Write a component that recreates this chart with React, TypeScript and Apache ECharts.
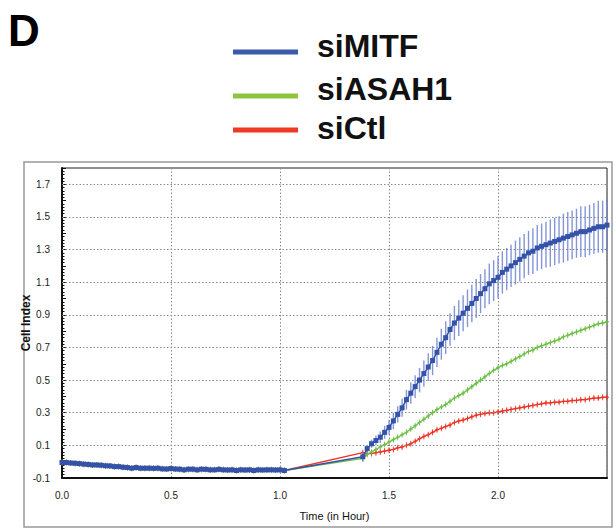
import React, { useEffect, useRef } from "react";
import * as echarts from "echarts";

// ---- data ----
const seriesNames = ["siMITF", "siASAH1", "siCtl"];
const seriesColors = ["#3352a8", "#6cbf45", "#ee3324"];
const legendColors = ["#3a5bab", "#8cc63e", "#ee3a24"];

// baseline phase (all three wells overlap)
const baselineT = [
  0.0, 0.02, 0.04, 0.06, 0.08, 0.1, 0.12, 0.14, 0.16, 0.18, 0.2, 0.22, 0.24, 0.26, 0.28, 0.3, 0.32, 0.34,
  0.36, 0.38, 0.4, 0.42, 0.44, 0.46, 0.48, 0.5, 0.52, 0.54, 0.56, 0.58, 0.6, 0.62, 0.64, 0.66, 0.68, 0.7,
  0.72, 0.74, 0.76, 0.78, 0.8, 0.82, 0.84, 0.86, 0.88, 0.9, 0.92, 0.94, 0.96, 0.98, 1.0, 1.02,
];
const baselineCI = [
  -0.005, -0.005, -0.008, -0.01, -0.012, -0.015, -0.017, -0.02, -0.02, -0.022, -0.025, -0.026, -0.03, -0.03,
  -0.034, -0.036, -0.04, -0.036, -0.04, -0.04, -0.04, -0.041, -0.04, -0.044, -0.045, -0.042, -0.045, -0.046,
  -0.05, -0.046, -0.046, -0.05, -0.046, -0.047, -0.05, -0.05, -0.047, -0.05, -0.051, -0.05, -0.054, -0.05,
  -0.051, -0.05, -0.054, -0.05, -0.051, -0.05, -0.05, -0.051, -0.05, -0.054,
];

// treatment phase
const phaseT = [
  1.38, 1.4, 1.42, 1.44, 1.46, 1.48, 1.5, 1.52, 1.54, 1.56, 1.58, 1.6, 1.62, 1.64, 1.66, 1.68, 1.7, 1.72,
  1.74, 1.76, 1.78, 1.8, 1.82, 1.84, 1.86, 1.88, 1.9, 1.92, 1.94, 1.96, 1.98, 2.0, 2.02, 2.04, 2.06, 2.08,
  2.1, 2.12, 2.14, 2.16, 2.18, 2.2, 2.22, 2.24, 2.26, 2.28, 2.3, 2.32, 2.34, 2.36, 2.38, 2.4, 2.42, 2.44,
  2.46, 2.48, 2.5,
];
const siMITF = [
  0.03, 0.08, 0.11, 0.13, 0.15, 0.18, 0.21, 0.25, 0.29, 0.33, 0.38, 0.42, 0.46, 0.5, 0.54, 0.58, 0.62, 0.67,
  0.72, 0.76, 0.81, 0.85, 0.88, 0.91, 0.94, 0.97, 1.0, 1.03, 1.06, 1.09, 1.11, 1.13, 1.16, 1.18, 1.2, 1.22,
  1.24, 1.26, 1.28, 1.29, 1.31, 1.32, 1.33, 1.34, 1.35, 1.36, 1.37, 1.38, 1.39, 1.4, 1.41, 1.41, 1.42, 1.43,
  1.44, 1.44, 1.45,
];
const siMITFErr = [
  0.03, 0.02, 0.025, 0.03, 0.035, 0.04, 0.045, 0.05, 0.05, 0.055, 0.06, 0.065, 0.07, 0.075, 0.08, 0.085, 0.09,
  0.09, 0.095, 0.1, 0.1, 0.105, 0.11, 0.11, 0.115, 0.115, 0.12, 0.12, 0.12, 0.125, 0.125, 0.13, 0.13, 0.13,
  0.13, 0.135, 0.135, 0.135, 0.135, 0.14, 0.14, 0.14, 0.14, 0.145, 0.145, 0.145, 0.15, 0.15, 0.15, 0.15, 0.155,
  0.155, 0.155, 0.155, 0.16, 0.16, 0.16,
];
const siASAH1 = [
  0.02, 0.045, 0.06, 0.075, 0.09, 0.105, 0.12, 0.135, 0.15, 0.165, 0.18, 0.2, 0.22, 0.24, 0.26, 0.28, 0.3,
  0.32, 0.335, 0.35, 0.37, 0.39, 0.405, 0.42, 0.44, 0.46, 0.48, 0.5, 0.52, 0.54, 0.56, 0.575, 0.59, 0.6,
  0.615, 0.63, 0.645, 0.66, 0.675, 0.685, 0.7, 0.71, 0.72, 0.73, 0.74, 0.75, 0.765, 0.775, 0.785, 0.795,
  0.805, 0.815, 0.825, 0.835, 0.845, 0.85, 0.857,
];
const siCtl = [
  0.055, 0.05, 0.05, 0.055, 0.06, 0.065, 0.07, 0.075, 0.085, 0.09, 0.1, 0.11, 0.125, 0.14, 0.155, 0.165,
  0.18, 0.195, 0.205, 0.215, 0.225, 0.24, 0.25, 0.255, 0.265, 0.275, 0.285, 0.29, 0.295, 0.3, 0.3, 0.305,
  0.31, 0.315, 0.32, 0.325, 0.33, 0.335, 0.34, 0.345, 0.35, 0.355, 0.36, 0.36, 0.365, 0.365, 0.37, 0.37,
  0.375, 0.375, 0.38, 0.38, 0.385, 0.39, 0.39, 0.395, 0.395,
];
const smallErr = 0.012;

// gridlines / ticks
const yGridValues = [0.1, 0.3, 0.5, 0.7, 0.9, 1.1, 1.3, 1.5, 1.7];
const xLabelValues = [0, 0.5, 1.0, 1.5, 2.0];

const FONT = "'Liberation Sans', Arial, sans-serif";
const BOLD = "'Liberation Sans', Arial, sans-serif";

const plusSymbol =
  "path://M2,0 L3,0 L3,2.5 L5,2.5 L5,3.5 L3,3.5 L3,6 L2,6 L2,3.5 L0,3.5 L0,2.5 L2,2.5 Z";

function buildSeriesData(values: number[]) {
  const base = baselineT.map((t, i) => [t, baselineCI[i]]);
  const phase = phaseT.map((t, i) => [t, values[i]]);
  return base.concat(phase);
}

export default function App() {
  const ref = useRef<HTMLDivElement>(null);

  useEffect(() => {
    if (!ref.current) return;
    const chart = echarts.init(ref.current, undefined, { renderer: "svg" });

    const legendLineY = [52, 96, 130];
    const legendTextY = [46, 89, 128];
    const legendGraphics: any[] = [];
    seriesNames.forEach((name, i) => {
      legendGraphics.push({
        type: "line",
        shape: { x1: 233, y1: legendLineY[i], x2: 298, y2: legendLineY[i] },
        style: { stroke: legendColors[i], lineWidth: 5 },
      });
      legendGraphics.push({
        type: "text",
        x: 317,
        y: legendTextY[i],
        style: {
          text: name,
          font: `bold 32px ${BOLD}`,
          fill: "#111",
          verticalAlign: "middle",
          align: "left",
        },
      });
    });

    const errCustom = (errs: number[], vals: number[], color: string, width: number, name: string, z: number) => ({
      type: "custom",
      name: name + "-err",
      z,
      silent: true,
      data: phaseT.map((t, i) => [t, vals[i] - errs[i], vals[i] + errs[i]]),
      encode: { x: 0, y: [1, 2] },
      renderItem: (params: any, api: any) => {
        const x = api.value(0);
        const p1 = api.coord([x, api.value(1)]);
        const p2 = api.coord([x, api.value(2)]);
        return {
          type: "line",
          shape: { x1: p1[0], y1: p1[1], x2: p2[0], y2: p2[1] },
          style: { stroke: color, lineWidth: width, opacity: 0.85 },
        };
      },
    });

    const option: any = {
      animation: false,
      backgroundColor: "#fff",
      grid: {
        left: 62,
        top: 168,
        right: 9,
        bottom: 51,
        show: true,
        borderColor: "#222",
        borderWidth: 1,
        backgroundColor: "#fff",
      },
      graphic: [
        {
          type: "rect",
          shape: { x: 24, y: 162, width: 588, height: 365 },
          style: { fill: "none", stroke: "#999", lineWidth: 1.5 },
          z: -1,
        },
        {
          type: "text",
          x: 8,
          y: 30,
          style: { text: "D", font: `bold 44px ${BOLD}`, fill: "#000", verticalAlign: "middle" },
        },
        ...legendGraphics,
      ],
      xAxis: {
        type: "value",
        min: 0,
        max: 2.5,
        interval: 0.5,
        name: "Time (in Hour)",
        nameLocation: "middle",
        nameGap: 32,
        nameMoveOverlap: false,
        nameTextStyle: { fontFamily: FONT, fontSize: 11, color: "#111" },
        axisLine: { show: true, onZero: false, lineStyle: { color: "#111", width: 2 } },
        axisTick: { show: false },
        splitLine: { show: true, lineStyle: { color: "#888", type: [1.5, 2], width: 1 } },
        axisLabel: {
          margin: 12,
          fontFamily: FONT,
          fontSize: 10,
          color: "#222",
          showMaxLabel: false,
          formatter: (v: number) =>
            xLabelValues.some((x) => Math.abs(x - v) < 1e-6) ? v.toFixed(1) : "",
        },
      },
      yAxis: {
        type: "value",
        min: -0.1,
        max: 1.8,
        interval: 0.1,
        name: "Cell Index",
        nameLocation: "middle",
        nameGap: 30,
        nameMoveOverlap: false,
        nameTextStyle: { fontFamily: BOLD, fontSize: 12, fontWeight: "bold", color: "#111" },
        axisLine: { show: true, onZero: false, lineStyle: { color: "#111", width: 2 } },
        axisTick: { show: true, inside: true, length: 4, lineStyle: { color: "#111" } },
        minorTick: { show: true, splitNumber: 5, length: 2.5, lineStyle: { color: "#111" } },
        splitLine: { show: false },
        axisLabel: {
          margin: 12,
          fontFamily: FONT,
          fontSize: 10,
          color: "#222",
          formatter: (v: number) => {
            const k = Math.round(v * 10);
            return yGridValues.some((g) => Math.abs(g - v) < 1e-6) || k === -1 ? v.toFixed(1) : "";
          },
        },
      },
      series: [
        {
          type: "line",
          name: "grid",
          data: [],
          silent: true,
          z: 0,
          markLine: {
            silent: true,
            symbol: "none",
            label: { show: false },
            lineStyle: { color: "#888", type: [1.5, 2], width: 1 },
            data: yGridValues.map((v) => ({ yAxis: v })),
          },
        },
        errCustom(phaseT.map(() => smallErr), siCtl, seriesColors[2], 1, seriesNames[2], 2),
        {
          type: "line",
          name: seriesNames[2],
          z: 3,
          data: buildSeriesData(siCtl),
          lineStyle: { color: seriesColors[2], width: 1.3 },
          itemStyle: { color: seriesColors[2] },
          symbol: plusSymbol,
          symbolSize: [4, 6],
        },
        errCustom(phaseT.map(() => smallErr), siASAH1, seriesColors[1], 1, seriesNames[1], 4),
        {
          type: "line",
          name: seriesNames[1],
          z: 5,
          data: buildSeriesData(siASAH1),
          lineStyle: { color: seriesColors[1], width: 1.3 },
          itemStyle: { color: seriesColors[1] },
          symbol: plusSymbol,
          symbolSize: [4, 6],
        },
        errCustom(siMITFErr, siMITF, "#6e84cf", 1.4, seriesNames[0], 6),
        {
          type: "line",
          name: seriesNames[0],
          z: 7,
          data: buildSeriesData(siMITF),
          lineStyle: { color: seriesColors[0], width: 1.5 },
          itemStyle: { color: seriesColors[0] },
          symbol: "rect",
          symbolSize: 5,
        },
      ],
    };

    chart.setOption(option);
    return () => chart.dispose();
  }, []);

  return (
    <div
      ref={ref}
      style={{ position: "absolute", left: 0, top: 0, width: 616, height: 529 }}
    />
  );
}
